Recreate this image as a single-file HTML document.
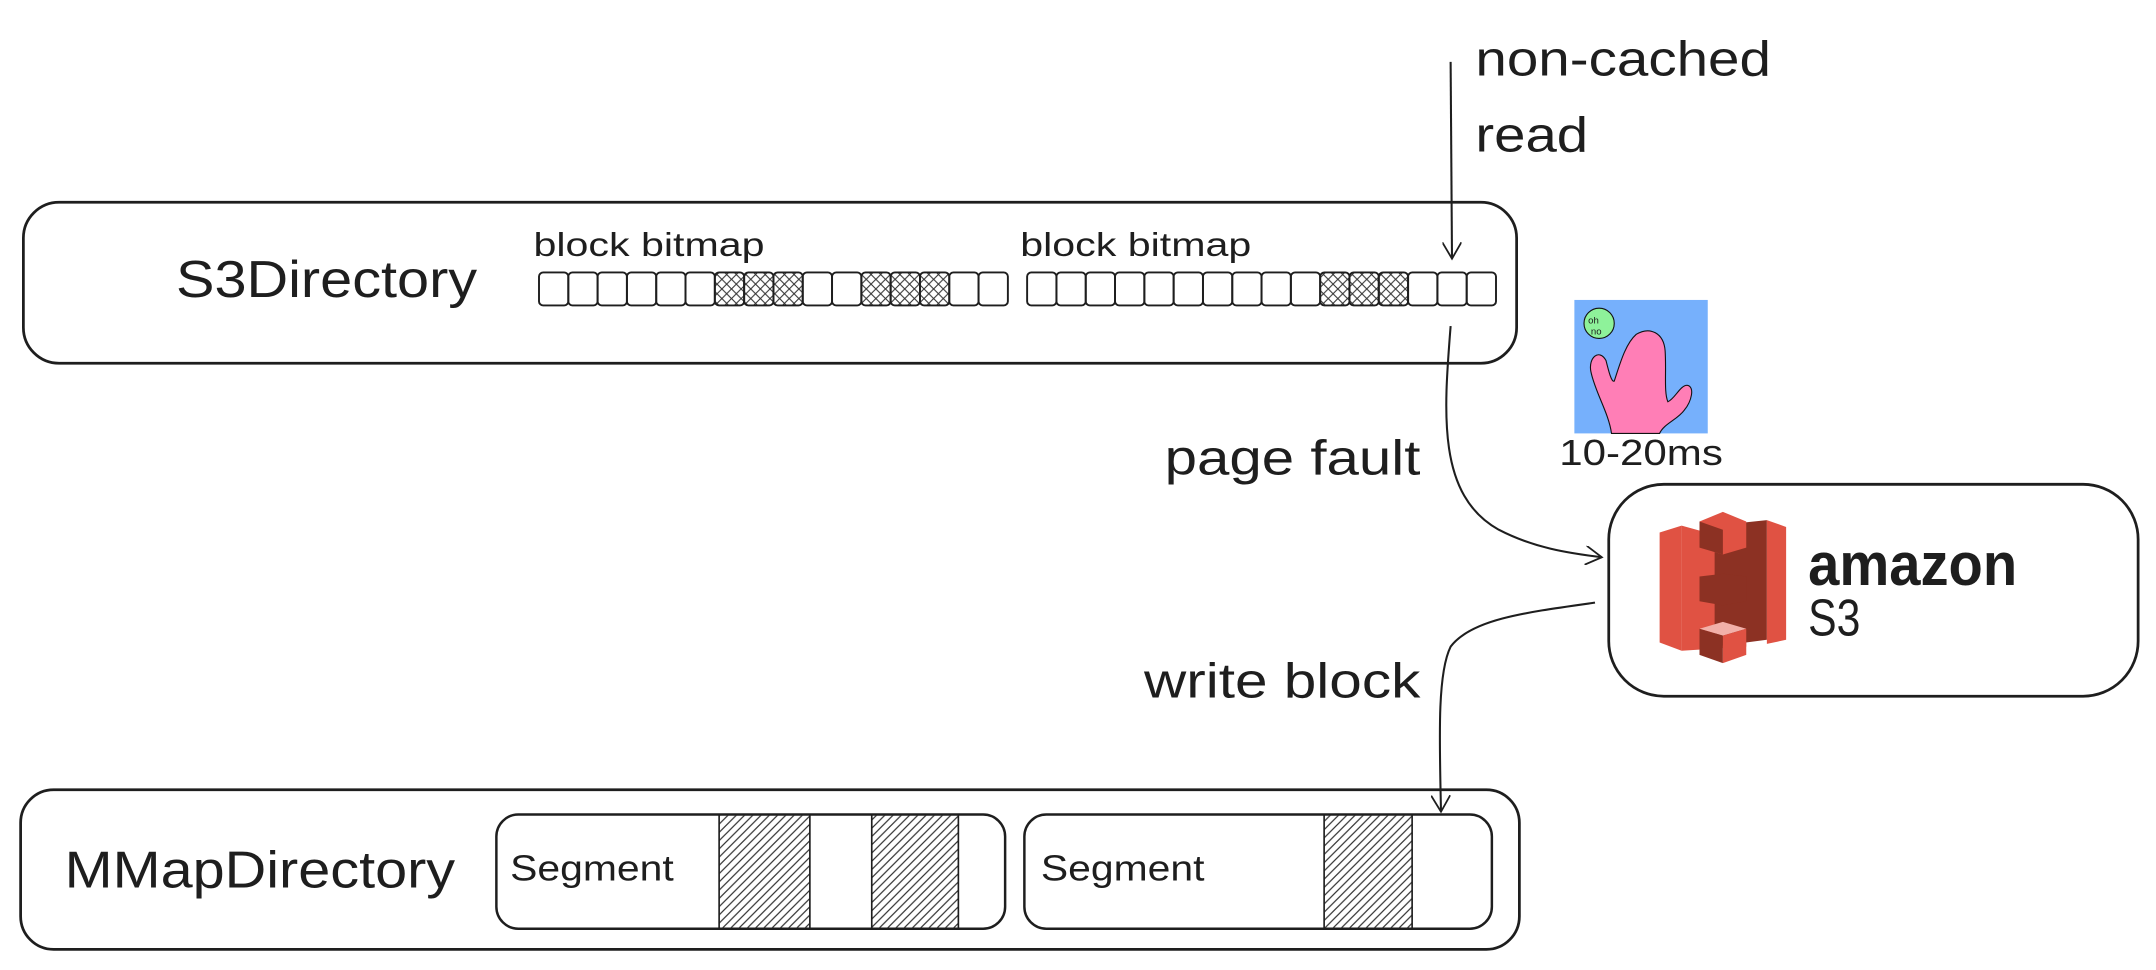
<!DOCTYPE html>
<html><head><meta charset="utf-8"><style>
html,body{margin:0;padding:0;background:#fff;}
svg{display:block;}
text{font-family:"Liberation Sans",sans-serif;fill:#1e1e1e;}
</style></head><body>
<svg width="2156" height="970" viewBox="0 0 1568 705" preserveAspectRatio="none">
<defs>
<pattern id="xh" width="7" height="7" patternUnits="userSpaceOnUse"><path d="M0 0L7 7M7 0L0 7" stroke="#333" stroke-width="0.8"/></pattern>
<pattern id="dh" width="6" height="6" patternUnits="userSpaceOnUse"><path d="M0 6L6 0M-1 1L1 -1M5 7L7 5" stroke="#333" stroke-width="0.9"/></pattern>
<marker id="ah" markerWidth="14" markerHeight="14" refX="12" refY="7" orient="auto" markerUnits="userSpaceOnUse"><path d="M0 0L12 7L0 14" fill="none" stroke="#1e1e1e" stroke-width="1.3"/></marker>
</defs>
<g>
<rect x="17" y="147" width="1086" height="117" rx="26" fill="none" stroke="#1e1e1e" stroke-width="2"/>
<text x="128" y="216" font-size="38" textLength="219" lengthAdjust="spacingAndGlyphs">S3Directory</text>
<text x="388" y="186" font-size="24" textLength="168" lengthAdjust="spacingAndGlyphs">block bitmap</text>
<text x="742" y="186" font-size="24" textLength="168" lengthAdjust="spacingAndGlyphs">block bitmap</text>
<g id="bm1"></g>
<g id="bm2"></g>
</g>
<g>
<path d="M1055 45 L1056 188" fill="none" stroke="#1e1e1e" stroke-width="1.5" marker-end="url(#ah)"/>
<text x="1073" y="55" font-size="36" textLength="215" lengthAdjust="spacingAndGlyphs">non-cached</text>
<text x="1073" y="110" font-size="36" textLength="82" lengthAdjust="spacingAndGlyphs">read</text>
</g>
<g>
<path d="M1055 237 C1050 300,1045 360,1090 385 C1115 398,1140 402,1165 405" fill="none" stroke="#1e1e1e" stroke-width="1.5" marker-end="url(#ah)"/>
<text x="847" y="345" font-size="36" textLength="186" lengthAdjust="spacingAndGlyphs">page fault</text>
</g>
<g>
<rect x="1145" y="218" width="97" height="97" fill="#76b0fc"/>
<path d="M1172 315 C1170 300,1160 285,1157 270 C1155 260,1163 253,1168 262 C1170 270,1172 278,1174 277 C1178 265,1182 250,1190 243 C1200 237,1210 242,1211 255 C1212 270,1210 285,1213 292 C1218 290,1222 280,1227 280 C1233 281,1230 292,1225 298 C1220 305,1210 308,1207 315 Z" fill="#ff7eb6" stroke="#111" stroke-width="0.8"/>
<circle cx="1163" cy="235" r="11" fill="#8ef29a" stroke="#111" stroke-width="0.8"/>
<text x="1155" y="235" font-size="7">oh</text><text x="1157" y="243" font-size="7">no</text>
<text x="1134" y="338" font-size="26" textLength="119" lengthAdjust="spacingAndGlyphs">10-20ms</text>
</g>
<g>
<rect x="1170" y="352" width="385" height="154" rx="40" fill="none" stroke="#1e1e1e" stroke-width="2"/>
<g>
<path d="M1207 387 L1223 382 L1223 473 L1207 467 Z" fill="#e05243"/>
<path d="M1223 382 L1270 395 L1270 470 L1223 473 Z" fill="#e05243"/>
<path d="M1247 382 L1285 378 L1285 465 L1247 470 Z" fill="#8c3123"/>
<path d="M1285 378 L1299 383 L1299 465 L1285 468 Z" fill="#e05243"/>
<path d="M1236 379 L1253 372 L1270 379 L1270 398 L1253 403 L1236 398 Z" fill="#e05243"/>
<path d="M1236 379 L1253 385 L1253 403 L1236 398 Z" fill="#8c3123"/>
<path d="M1236 419 L1253 417 L1270 419 L1270 437 L1253 440 L1236 437 Z" fill="#8c3123"/>
<path d="M1236 457 L1253 452 L1270 457 L1253 462 Z" fill="#f2b0a9"/>
<path d="M1236 457 L1253 462 L1253 482 L1236 476 Z" fill="#8c3123"/>
<path d="M1253 462 L1270 457 L1270 476 L1253 482 Z" fill="#e05243"/>
</g>
<text x="1315" y="425" font-size="44" font-weight="bold" textLength="152" lengthAdjust="spacingAndGlyphs">amazon</text>
<text x="1315" y="462" font-size="38" textLength="38" lengthAdjust="spacingAndGlyphs">S3</text>
</g>
<g>
<path d="M1160 438 C1110 445,1070 450,1055 470 C1045 490,1047 540,1048 590" fill="none" stroke="#1e1e1e" stroke-width="1.5" marker-end="url(#ah)"/>
<text x="832" y="507" font-size="36" textLength="201" lengthAdjust="spacingAndGlyphs">write block</text>
</g>
<g>
<rect x="15" y="574" width="1090" height="116" rx="24" fill="none" stroke="#1e1e1e" stroke-width="2"/>
<text x="47" y="645" font-size="38" textLength="284" lengthAdjust="spacingAndGlyphs">MMapDirectory</text>
<g>
<rect x="361" y="592" width="370" height="83" rx="16" fill="none" stroke="#1e1e1e" stroke-width="1.8"/>
<rect x="523" y="592" width="66" height="83" fill="url(#dh)" stroke="#1e1e1e" stroke-width="1.2"/>
<rect x="634" y="592" width="63" height="83" fill="url(#dh)" stroke="#1e1e1e" stroke-width="1.2"/>
<text x="371" y="640" font-size="26" textLength="119" lengthAdjust="spacingAndGlyphs">Segment</text>
</g>
<g>
<rect x="745" y="592" width="340" height="83" rx="16" fill="none" stroke="#1e1e1e" stroke-width="1.8"/>
<rect x="963" y="592" width="64" height="83" fill="url(#dh)" stroke="#1e1e1e" stroke-width="1.2"/>
<text x="757" y="640" font-size="26" textLength="119" lengthAdjust="spacingAndGlyphs">Segment</text>
</g>
</g>
</svg>
<script>
const bitmap1 = [0,0,0,0,0,0,1,1,1,0,0,1,1,1,0,0];
const bitmap2 = [0,0,0,0,0,0,0,0,0,0,1,1,1,0,0,0];
const NS='http://www.w3.org/2000/svg';
function draw(id,bits,x0,x1){
  const g=document.getElementById(id);const w=(x1-x0)/bits.length;
  bits.forEach((b,i)=>{
    const r=document.createElementNS(NS,'rect');
    r.setAttribute('x',x0+i*w);r.setAttribute('y',198);r.setAttribute('width',w);r.setAttribute('height',24);r.setAttribute('rx',3);
    r.setAttribute('fill',b?'url(#xh)':'none');r.setAttribute('stroke','#1e1e1e');r.setAttribute('stroke-width','1.4');
    
    
    g.appendChild(r);
  });
}
draw('bm1',bitmap1,392,733);
draw('bm2',bitmap2,747,1088);
</script>
</body></html>
